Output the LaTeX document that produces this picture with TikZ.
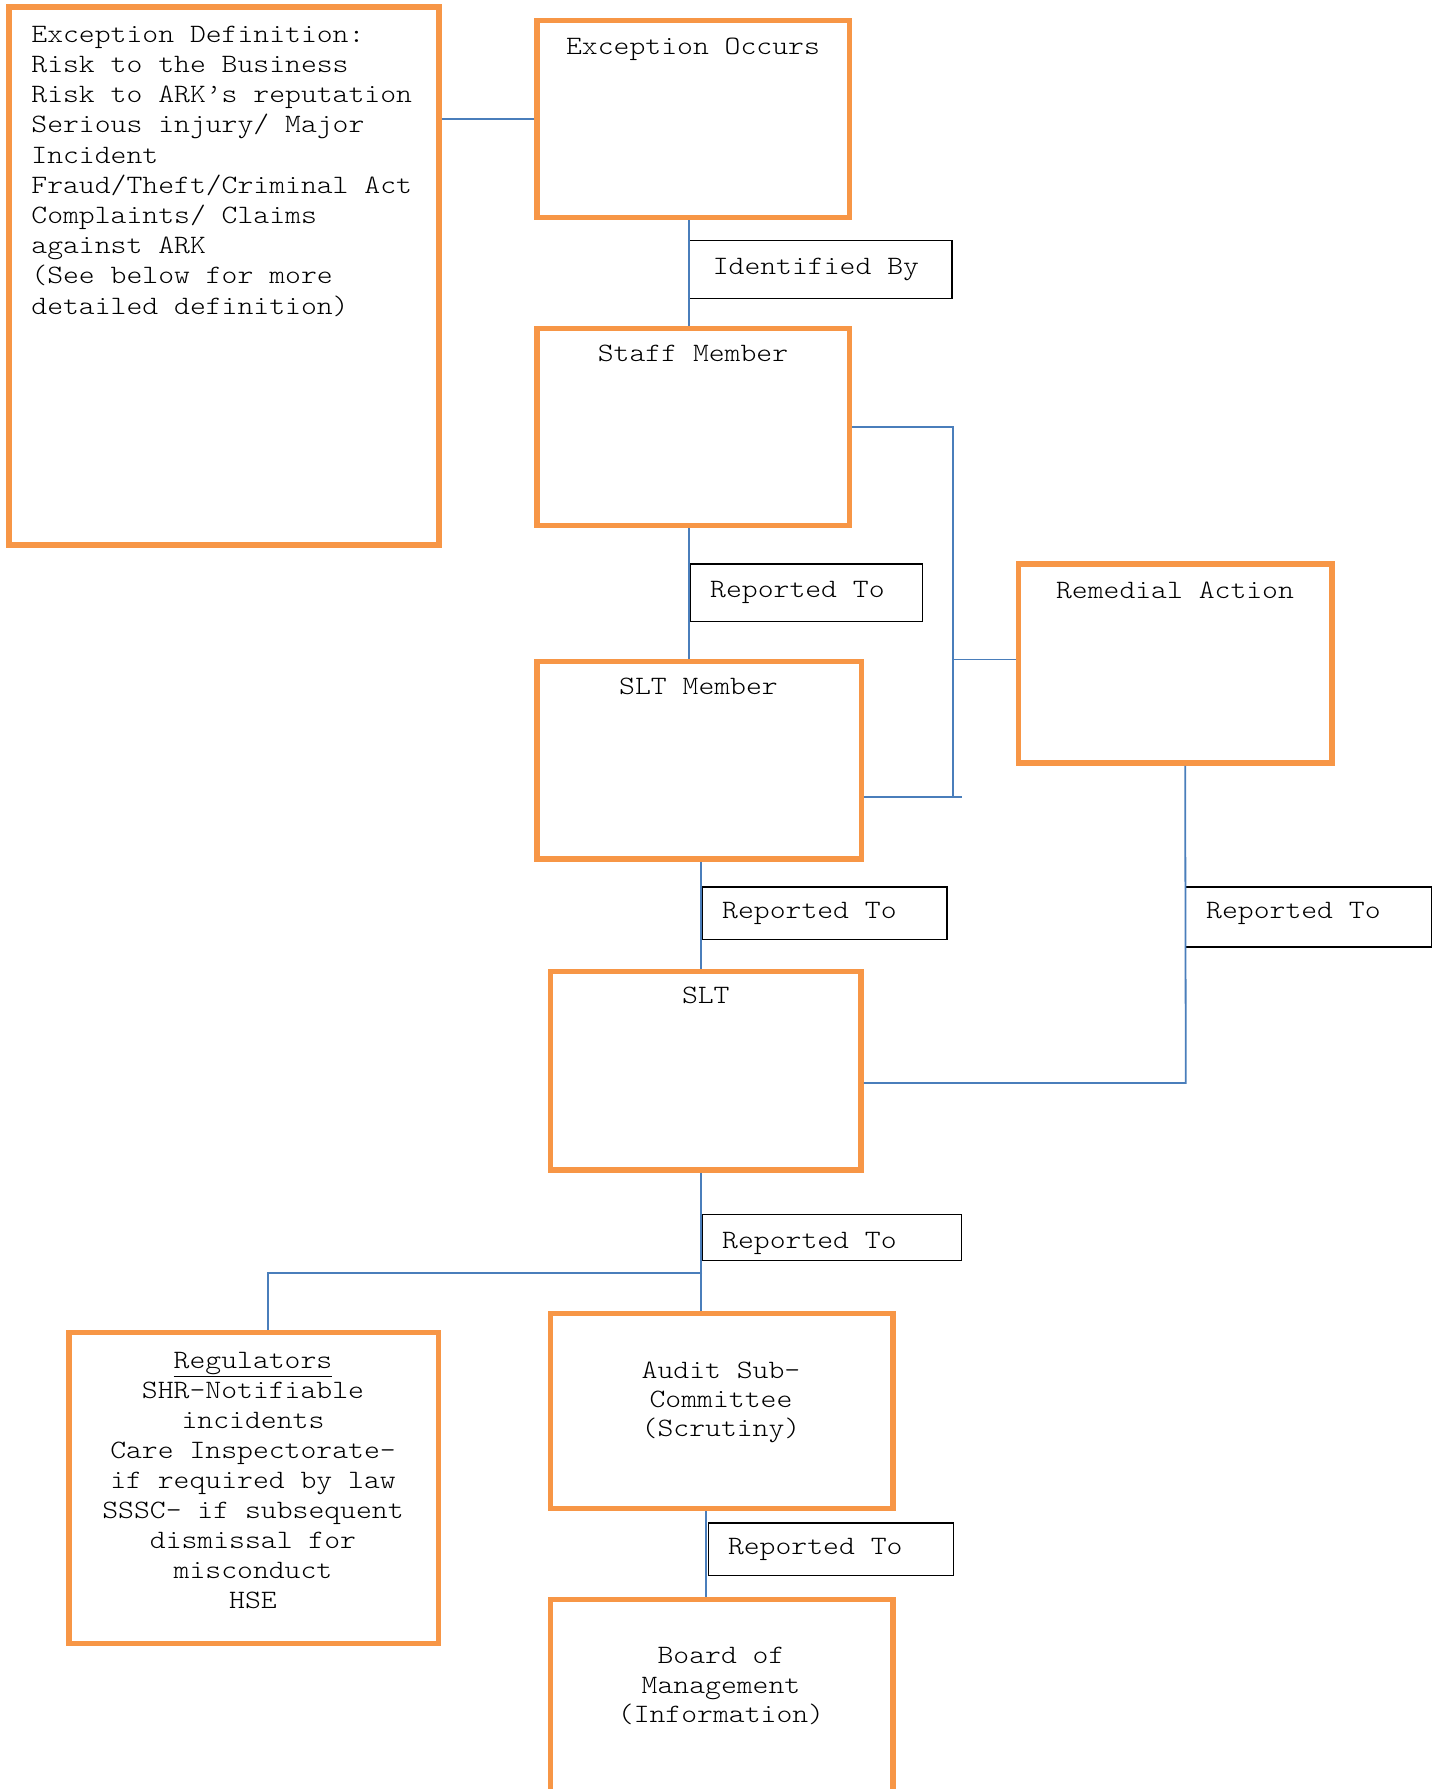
\documentclass[tikz,border=0pt]{standalone}
\usepackage{fontspec}
\newfontfamily\cour[FakeStretch=1.14]{lmmonolt10-regular.otf}
\definecolor{orangeC}{HTML}{F79646}
\definecolor{blueC}{HTML}{4A7EBB}
\newcommand{\fstrut}{\rule{0pt}{24pt}}
\begin{document}
\begin{tikzpicture}[x=1pt,y=-1pt,
  obox/.style={draw=orangeC, line width=5.5pt, fill=white, inner sep=0pt},
  lbox/.style={draw=black, line width=1.3pt, fill=white, inner sep=0pt},
  conn/.style={draw=blueC, line width=1.8pt},
  txt/.style={font=\cour\fontsize{26.5}{30.2}\selectfont, inner sep=0pt, text=black},
  txtb/.style={txt, font=\cour\fontsize{26.5}{30}\selectfont},
  txtc/.style={txt, font=\cour\fontsize{26.5}{29.3}\selectfont}]
\useasboundingbox (0,0) rectangle (1439,1789);
\clip (0,0) rectangle (1439,1789);
\fill[white] (0,0) rectangle (1439,1789);

% coordinates for connector corners
\coordinate (sbus) at (952.7,796.8);
\coordinate (sbusend) at (961.7,796.8);
\coordinate (rcorner) at (1185.8,1083);
\coordinate (j1) at (702,1272.7);

% label boxes
\node[lbox, minimum width=262.5pt, minimum height=58pt] (idb) at (820.75,269.5) {};
\node[lbox, minimum width=232.8pt, minimum height=57.7pt] (rt1) at (806.4,592.85) {};
\node[lbox, minimum width=245pt, minimum height=52.8pt] (rt2) at (824.5,913.4) {};
\node[lbox, minimum width=245.9pt, minimum height=60pt] (rt3) at (1308.75,917) {};
\node[lbox, minimum width=259.8pt, minimum height=46.1pt] (rt4) at (831.9,1237.75) {};
\node[lbox, minimum width=245.1pt, minimum height=52.7pt] (rt5) at (831.05,1549.35) {};

% orange boxes
\node[obox, minimum width=430pt, minimum height=538pt] (def) at (224,276) {};
\node[obox, minimum width=312.5pt, minimum height=197pt] (exc) at (693.25,119) {};
\node[obox, minimum width=312.5pt, minimum height=197pt] (staff) at (693.25,427) {};
\node[obox, minimum width=324.5pt, minimum height=197.5pt] (sltm) at (699.25,760.25) {};
\node[obox, minimum width=313.5pt, minimum height=199pt] (rem) at (1175.25,663.5) {};
\node[obox, minimum width=310.5pt, minimum height=198.5pt] (slt) at (705.75,1070.75) {};
\node[obox, minimum width=369.7pt, minimum height=311.2pt] (reg) at (253.85,1488.1) {};
\node[obox, minimum width=342.5pt, minimum height=194.8pt] (audit) at (721.75,1411) {};
\node[obox, minimum width=342.5pt, minimum height=200.5pt] (board) at (721.75,1699.75) {};

% connectors
\draw[conn] (exc.west) -- (exc.west -| def.east);
\draw[conn] (idb.west |- exc.south) -- (idb.west |- staff.north);
\draw[conn] (rt1.west |- staff.south) -- (rt1.west |- sltm.north);
\draw[conn] (rt2.west |- sltm.south) -- (rt2.west |- slt.north);
\draw[conn] (rt4.west |- slt.south) -- (rt4.west |- audit.north);
\draw[conn] (j1) -| ([xshift=14.2pt]reg.north);
\draw[conn] ([xshift=-1.8pt]rt5.west |- audit.south) -- ([xshift=-1.8pt]rt5.west |- board.north);
\draw[conn] (staff.east) -| (sbus);
\draw[conn] (sltm.east |- sbus) -- (sbusend);
\draw[conn] ([yshift=4pt]rem.west) -- ([yshift=4pt]rem.west -| sbus);
\draw[conn] (rt3.west |- rem.south) -- (rcorner) -- (rcorner -| slt.east);

% texts
\node[txt, anchor=north west, align=left] (tdef) at (31.2,18.1) {\fstrut Exception Definition:\\Risk to the Business\\Risk to ARK’s reputation\\Serious injury/ Major\\Incident\\Fraud/Theft/Criminal Act\\Complaints/ Claims\\against ARK\\(See below for more\\detailed definition)};
\node[txt, anchor=base] (texc) at (693,54.5) {Exception Occurs};
\node[txt, anchor=base] (tstaff) at (693,361.6) {Staff Member};
\node[txt, anchor=base] (tsltm) at (698.5,694.6) {SLT Member};
\node[txt, anchor=base] (trem) at (1175,598.7) {Remedial Action};
\node[txt, anchor=base] (tslt) at (705.8,1003.7) {SLT};
\node[txtb, anchor=north, align=center] (treg) at (253,1344) {\fstrut\underline{Regulators}\\SHR-Notifiable\\incidents\\Care Inspectorate-\\if required by law\\SSSC- if subsequent\\dismissal for\\misconduct\\HSE};
\node[txtc, anchor=north, align=center] (taudit) at (721,1354) {\fstrut Audit Sub-\\Committee\\(Scrutiny)};
\node[txtc, anchor=north, align=center] (tboard) at (721,1639.6) {\fstrut Board of\\Management\\(Information)};
\node[txt, anchor=base west] (tidb) at (712.6,274.4) {Identified By};
\node[txt, anchor=base west] (trt1) at (710,597) {Reported To};
\node[txt, anchor=base west] (trt2) at (722,918) {Reported To};
\node[txt, anchor=base west] (trt3) at (1206,918) {Reported To};
\node[txt, anchor=base west] (trt4) at (722,1248) {Reported To};
\node[txt, anchor=base west] (trt5) at (727.8,1554.6) {Reported To};
\end{tikzpicture}
\end{document}
